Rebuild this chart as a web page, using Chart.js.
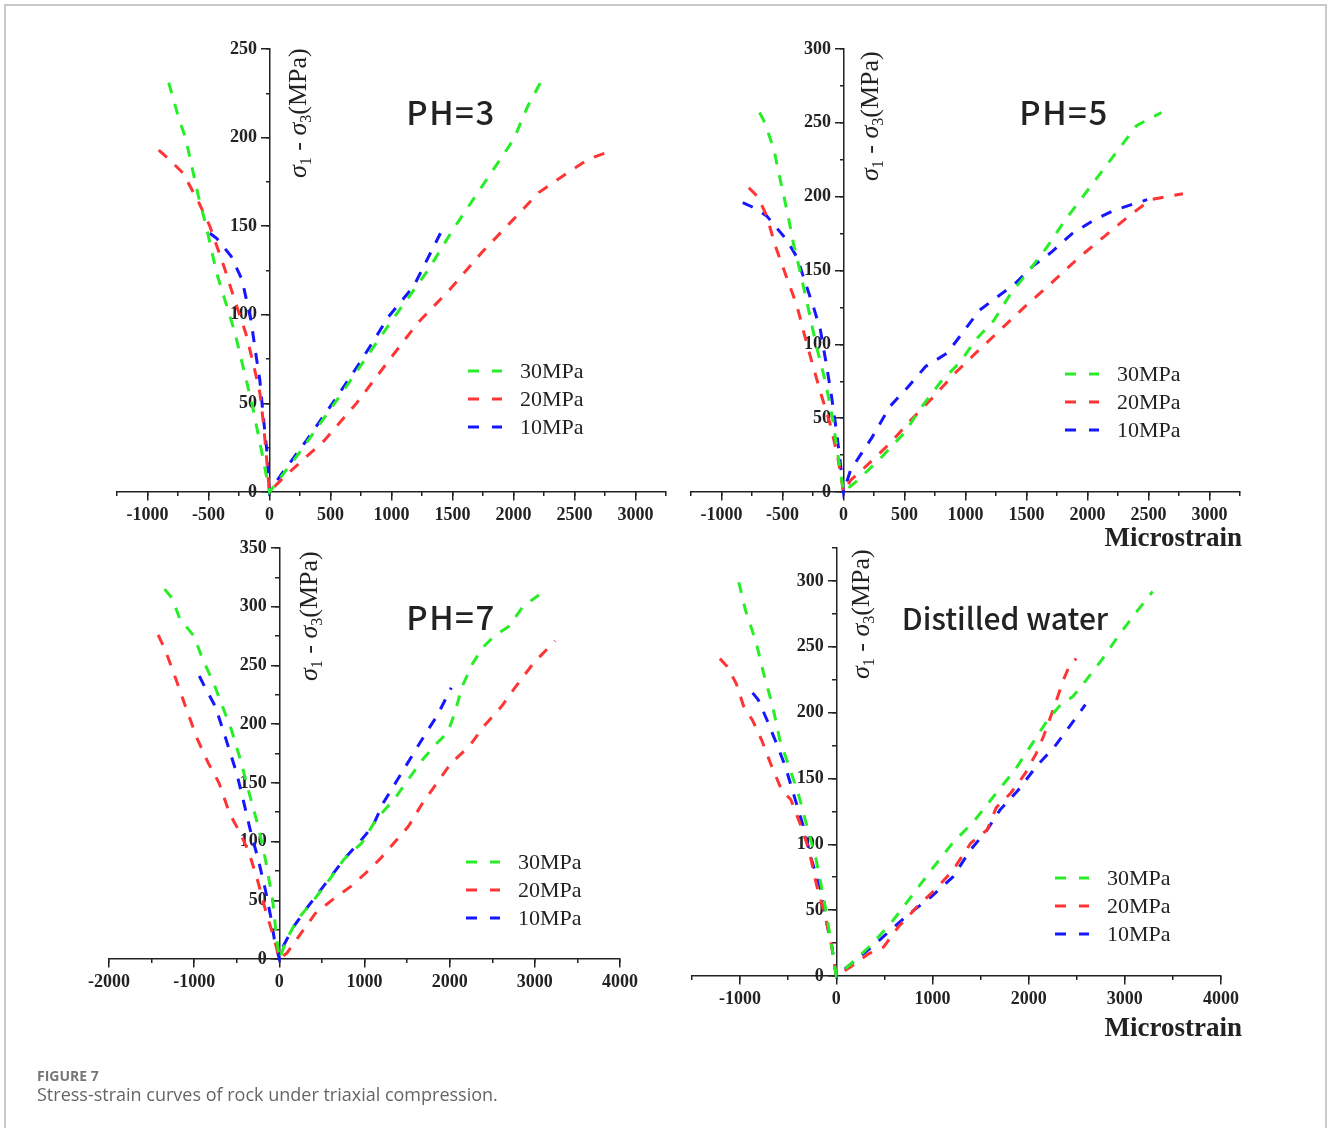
<!DOCTYPE html>
<html>
<head>
<meta charset="utf-8">
<title>Stress-strain curves</title>
<script src="https://cdn.jsdelivr.net/npm/chart.js@4.4.1/dist/chart.umd.min.js"></script>
<style>
  body { margin: 0; background: #fff; }
  #page { position: relative; width: 1328px; height: 1128px; overflow: hidden; background: #fff; }
  #frame { position: absolute; left: 4px; top: 4px; width: 1323px; height: 1200px; border: 2px solid #c9c9c9; box-sizing: border-box; }
  canvas { position: absolute; left: 0; top: 0; }
  .tag { position: absolute; font-family: "Noto Sans CJK SC", "Noto Sans", sans-serif; font-weight: 500; font-size: 31px; color: #222; transform: translate(-50%, -50%); white-space: nowrap; }
  .ph { letter-spacing: 1.5px; font-size: 33px; }
  .ytitle { position: absolute; font-family: "Liberation Serif", serif; font-size: 26px; line-height: 30px; color: #222; white-space: nowrap; transform-origin: 0 0; transform: rotate(-90deg); }
  .ytitle sub { font-size: 16px; vertical-align: -0.3em; }
  .xtitle { position: absolute; right: 86px; font-family: "Liberation Serif", serif; font-weight: bold; font-size: 27px; line-height: 30px; color: #222; }
  .cap1 { position: absolute; left: 37px; top: 1066px; font-family: "Open Sans", sans-serif; font-weight: bold; font-size: 14px; color: #777; }
  .cap2 { position: absolute; left: 37px; top: 1082px; font-family: "Open Sans", sans-serif; font-size: 18px; color: #666; }
</style>
</head>
<body>
<div id="page">
  <div id="frame"></div>
  <canvas id="c1" width="1328" height="1128"></canvas>
  <canvas id="c2" width="1328" height="1128"></canvas>
  <canvas id="c3" width="1328" height="1128"></canvas>
  <canvas id="c4" width="1328" height="1128"></canvas>

  <div class="tag ph" style="left:451px; top:111px;">PH=3</div>
  <div class="tag ph" style="left:1064px; top:111px;">PH=5</div>
  <div class="tag ph" style="left:451px; top:616px;">PH=7</div>
  <div class="tag" style="left:1005px; top:617px; font-size:30px;">Distilled water</div>

  <div class="ytitle" style="left:283px; top:178px;"><i>σ</i><sub>1</sub> - <i>σ</i><sub>3</sub>(MPa)</div>
  <div class="ytitle" style="left:855px; top:181px;"><i>σ</i><sub>1</sub> - <i>σ</i><sub>3</sub>(MPa)</div>
  <div class="ytitle" style="left:294px; top:681px;"><i>σ</i><sub>1</sub> - <i>σ</i><sub>3</sub>(MPa)</div>
  <div class="ytitle" style="left:846px; top:679px;"><i>σ</i><sub>1</sub> - <i>σ</i><sub>3</sub>(MPa)</div>

  <div class="xtitle" style="top:522px;">Microstrain</div>
  <div class="xtitle" style="top:1012px;">Microstrain</div>

  <div class="cap1">FIGURE 7</div>
  <div class="cap2">Stress-strain curves of rock under triaxial compression.</div>
</div>

<script>
// series labels and colours
const seriesLabels = ["30MPa", "20MPa", "10MPa"]
const seriesColors = ["#27ee27", "#ff3535", "#1616ff"]

// PH=3  [microstrain, deviatoric stress]
const ph3_30 = [[-826,231],[-740,210],[-689,200],[-583,167],[-519,150],[-431,123],[-328,100],[-284,90],[-138,48],[-56,20],[0,0],
  [243,22],[595,56],[1005,97],[1298,125],[1503,148],[1796,178],[2001,199],[2119,218],[2221,231]]
const ph3_20 = [[-908,193],[-826,188],[-709,180],[-577,163],[-489,150],[-372,127],[-284,108],[-196,90],[-138,74],[-79,56],[-50,39],[-20,16],[0,0],
  [97,7],[272,18],[448,29],[712,50],[976,74],[1210,95],[1474,114],[1738,135],[2001,154],[2207,169],[2441,180],[2617,188],[2822,193]]
const ph3_10 = [[-489,146],[-431,143],[-314,133],[-226,120],[-152,97],[-108,76],[-79,63],[-50,42],[-20,22],[0,0],
  [97,10],[302,29],[536,52],[741,73],[976,99],[1181,116],[1401,146]]

// PH=5
const ph5_30 = [[-688,257],[-644,250],[-571,232],[-512,209],[-454,187],[-410,168],[-366,153],[-293,126],[-220,98],[-146,74],[-88,49],[-44,24],[0,0],
  [117,8],[293,22],[498,40],[644,58],[791,74],[966,89],[1083,103],[1230,116],[1376,135],[1522,150],[1669,166],[1815,184],[1962,200],[2108,216],[2254,232],[2401,248],[2606,257]]
const ph5_20 = [[-776,206],[-703,200],[-630,187],[-556,166],[-469,146],[-381,126],[-322,107],[-249,85],[-176,64],[-102,44],[-44,22],[0,0],
  [59,8],[205,19],[381,33],[556,49],[732,64],[908,80],[1083,94],[1288,110],[1493,126],[1698,141],[1933,159],[2137,173],[2342,187],[2518,198],[2782,202]]
const ph5_10 = [[-826,196],[-747,193],[-630,187],[-469,171],[-381,159],[-322,144],[-249,126],[-190,110],[-146,89],[-102,67],[-59,42],[-29,22],[0,0],
  [59,15],[146,26],[234,37],[381,58],[527,71],[673,85],[849,94],[996,110],[1113,123],[1259,132],[1405,141],[1552,153],[1698,162],[1874,175],[2049,184],[2225,191],[2489,198]]

// PH=7
const ph7_30 = [[-1348,315],[-1255,307],[-1171,290],[-1003,275],[-898,255],[-772,235],[-667,215],[-562,195],[-458,170],[-353,141],[-248,113],[-164,85],[-80,51],[-38,22],[0,0],
  [88,17],[214,34],[382,48],[592,68],[760,85],[970,99],[1138,119],[1348,136],[1516,153],[1684,170],[1852,184],[1978,193],[2062,210],[2146,232],[2272,252],[2398,266],[2524,275],[2691,283],[2859,300],[3048,310]]
const ph7_20 = [[-1423,276],[-1339,263],[-1213,238],[-1087,212],[-961,187],[-835,167],[-709,150],[-584,124],[-458,107],[-353,90],[-248,65],[-164,42],[-59,17],[0,0],
  [88,5],[256,22],[424,39],[634,51],[844,62],[1012,73],[1180,85],[1348,99],[1516,113],[1684,133],[1852,150],[2019,167],[2229,181],[2398,198],[2608,215],[2776,232],[2985,252],[3237,271]]
const ph7_10 = [[-940,241],[-877,232],[-751,215],[-626,187],[-500,158],[-416,133],[-332,107],[-248,85],[-164,59],[-101,36],[-59,17],[0,0],
  [46,11],[172,28],[340,45],[550,65],[760,85],[970,102],[1096,113],[1222,133],[1390,153],[1558,173],[1726,193],[1852,207],[2019,231]]

// distilled water
const dw_30 = [[-1013,299],[-945,278],[-832,253],[-756,230],[-662,205],[-586,179],[-491,159],[-397,139],[-302,113],[-208,88],[-113,52],[-57,27],[0,0],
  [151,9],[340,22],[567,40],[756,58],[983,80],[1210,101],[1437,118],[1664,139],[1853,156],[2042,177],[2193,194],[2344,207],[2457,212],[2571,222],[2760,240],[2949,260],[3138,278],[3289,292]]
const dw_20 = [[-1210,241],[-1134,235],[-1040,222],[-964,205],[-870,194],[-775,179],[-681,161],[-567,141],[-473,134],[-378,116],[-284,96],[-208,70],[-132,50],[-57,27],[-19,9],[0,0],
  [151,7],[340,17],[491,22],[643,37],[832,52],[1021,65],[1210,80],[1399,101],[1569,111],[1664,128],[1815,139],[1966,154],[2079,169],[2155,182],[2268,205],[2363,225],[2420,235],[2495,241]]
const dw_10 = [[-870,215],[-813,210],[-718,194],[-624,177],[-529,159],[-435,136],[-340,113],[-265,90],[-170,68],[-113,45],[-45,22],[0,0],
  [151,9],[416,25],[567,35],[756,47],[983,60],[1210,75],[1399,96],[1569,111],[1701,126],[1890,141],[2079,159],[2268,174],[2420,189],[2590,206]]

// tick labels
const ph35XTicks = [-1000,-500,0,500,1000,1500,2000,2500,3000]
const ph7XTicks = [-2000,-1000,0,1000,2000,3000,4000]
const dwXTicks = [-1000,0,1000,2000,3000,4000]
const ph3YTicks = [0,50,100,150,200,250]
const ph5YTicks = [0,50,100,150,200,250,300]
const ph7YTicks = [0,50,100,150,200,250,300,350]
const dwYTicks = [0,50,100,150,200,250,300]

const tickFont = { family: "Liberation Serif", weight: "bold", size: 18 }
const INK = "#222"

const stepTicks = (min, max, step) => {
  const out = []
  for (let v = Math.ceil(min / step) * step; v <= max + 1e-6; v += step) out.push({ value: v })
  return out
}

// legend drawn inside the plot
const seriesKey = {
  id: "seriesKey",
  afterDatasetsDraw(chart, args, opts) {
    const ctx = chart.ctx
    ctx.save()
    chart.data.datasets.forEach((ds, i) => {
      const y = opts.y + i * 28
      ctx.strokeStyle = ds.borderColor
      ctx.lineWidth = 3
      ctx.setLineDash([11, 13])
      ctx.beginPath()
      ctx.moveTo(opts.x, y)
      ctx.lineTo(opts.x + 34, y)
      ctx.stroke()
      ctx.setLineDash([])
      ctx.fillStyle = INK
      ctx.font = '22px "Liberation Serif"'
      ctx.textBaseline = "middle"
      ctx.textAlign = "left"
      ctx.fillText(ds.label, opts.x + 52, y + 1)
    })
    ctx.restore()
  }
}

const makePanel = (id, box, xr, xMajor, xMinorStep, yr, yMajor, series, key) => {
  const W = 1328, H = 1128
  const majorGrid = { drawOnChartArea: false, drawTicks: true, tickLength: 8, color: INK, lineWidth: 1.5 }
  const minorGrid = { drawOnChartArea: false, drawTicks: true, tickLength: 4, color: INK, lineWidth: 1.5 }
  return new Chart(document.getElementById(id), {
    type: "scatter",
    data: {
      datasets: series.map((pts, i) => ({
        label: seriesLabels[i],
        data: pts.map(p => ({ x: p[0], y: p[1] })),
        showLine: true,
        borderColor: seriesColors[i],
        backgroundColor: seriesColors[i],
        borderWidth: 3,
        borderDash: [11, 11],
        pointRadius: 0,
        tension: 0,
        clip: false
      }))
    },
    options: {
      responsive: false,
      animation: false,
      events: [],
      layout: { padding: { left: box[0], top: box[1], right: W - box[2], bottom: H - box[3] } },
      plugins: { legend: { display: false }, tooltip: { enabled: false }, seriesKey: key },
      scales: {
        x: {
          type: "linear", position: { y: 0 }, min: xr[0], max: xr[1],
          afterBuildTicks: s => { s.ticks = xMajor.map(v => ({ value: v })) },
          afterFit: s => { s.height = 0 },
          ticks: { font: tickFont, color: INK, padding: 5, maxRotation: 0, autoSkip: false, callback: v => String(v) },
          grid: majorGrid,
          border: { display: true, color: INK, width: 1.5 }
        },
        x2: {
          type: "linear", position: { y: 0 }, min: xr[0], max: xr[1],
          afterBuildTicks: s => { s.ticks = stepTicks(xr[0], xr[1], xMinorStep) },
          afterFit: s => { s.height = 0 },
          ticks: { display: false },
          grid: minorGrid,
          border: { display: false }
        },
        y: {
          type: "linear", position: { x: 0 }, min: yr[0], max: yr[1],
          afterBuildTicks: s => { s.ticks = yMajor.map(v => ({ value: v })) },
          afterFit: s => { s.width = 0 },
          ticks: { font: tickFont, color: INK, autoSkip: false, callback: v => String(v) + "\u2002\u2009" },
          grid: majorGrid,
          border: { display: true, color: INK, width: 1.5 }
        },
        y2: {
          type: "linear", position: { x: 0 }, min: yr[0], max: yr[1],
          afterBuildTicks: s => { s.ticks = stepTicks(yr[0], yr[1], 25) },
          afterFit: s => { s.width = 0 },
          ticks: { display: false },
          grid: minorGrid,
          border: { display: false }
        }
      }
    },
    plugins: [seriesKey]
  })
}

makePanel("c1", [117, 49, 666, 492], [-1250, 3250], ph35XTicks, 250, [0, 250], ph3YTicks,
  [ph3_30, ph3_20, ph3_10], { x: 468, y: 371 })
makePanel("c2", [691, 49, 1240, 492], [-1250, 3250], ph35XTicks, 250, [0, 300], ph5YTicks,
  [ph5_30, ph5_20, ph5_10], { x: 1065, y: 374 })
makePanel("c3", [109, 548, 620, 959], [-2000, 4000], ph7XTicks, 500, [0, 350], ph7YTicks,
  [ph7_30, ph7_20, ph7_10], { x: 466, y: 862 })
makePanel("c4", [692, 548, 1221, 976], [-1500, 4000], dwXTicks, 500, [0, 325], dwYTicks,
  [dw_30, dw_20, dw_10], { x: 1055, y: 878 })
</script>
</body>
</html>
